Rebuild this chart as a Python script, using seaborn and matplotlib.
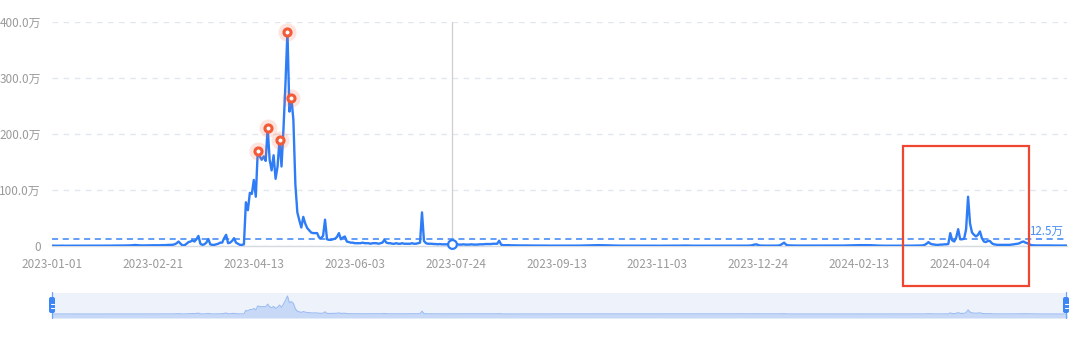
import numpy as np
import pandas as pd
import matplotlib
matplotlib.use("Agg")
import matplotlib.pyplot as plt
import matplotlib.transforms as mtransforms
from matplotlib.patches import Rectangle, FancyBboxPatch
import seaborn as sns

# ---------------- data (values in 万) ----------------
start_date = "2023-01-01"
jan_2023 = [0.6, 0.5, 0.5, 0.4, 0.5, 0.6, 0.5, 0.4, 0.5, 0.5,
            0.5, 0.4, 0.4, 0.5, 0.5, 0.6, 0.5, 0.5, 0.4, 0.5,
            0.5, 0.5, 0.6, 0.5, 0.5, 0.5, 0.6, 0.7, 0.6, 0.6, 0.7]
feb_2023 = [0.7, 0.8, 0.8, 0.9, 0.8, 0.8, 0.9, 1.0, 1.0,
            1.2, 1.5, 1.8, 1.5, 1.2, 1.0, 1.0, 0.9, 1.1, 1.2,
            1.2, 1.3, 1.3, 1.4, 1.3, 1.5, 1.6, 1.5, 1.8]
mar_2023 = [2.0,
            2.0, 2.2, 3.0, 5.0, 8.0, 4.0, 1.0, 1.5, 4.0, 7.0,
            8.0, 10.0, 8.0, 12.0, 18.0, 4.0, 2.0, 3.0, 6.0, 12.5,
            3.0, 2.0, 2.0, 3.0, 4.0, 6.0, 6.0, 14.0, 20.0, 5.0]
apr_2023 = [6.0, 9.0, 14.0, 6.0, 4.0, 2.0, 2.0, 3.0, 78, 64,
            95, 93, 118, 88, 170, 160, 154, 160, 152, 211,
            154, 135, 162, 120, 142, 190, 142, 210, 290, 383]
may_2023 = [240, 264, 225, 110, 60, 46, 33, 52, 40, 32,
            28, 24, 23, 23, 23, 15, 14, 18, 47, 12,
            11, 11, 12, 13, 16, 23, 12, 15, 17, 8, 7]
jun_2023 = [6, 6, 5, 5, 5, 5, 6, 5, 5,
            5, 4, 5, 5, 5, 4, 5, 6, 11, 6,
            5, 5, 4, 4, 5, 4, 4, 5, 4, 4, 4]
jul_2023 = [4, 5, 4, 4, 5, 6, 60, 9, 5,
            4, 4, 4, 3.5, 3.5, 3, 3.5, 3, 3, 3,
            3, 3, 3, 3, 2.5, 3, 2.5, 2.5, 3, 2.5, 2.5, 2.5]
aug_2023 = [3, 2.5, 2.5, 2.5, 3, 3, 3, 3.5,
            3.5, 3.5, 3.5, 4, 4, 4, 9.5, 2.5, 1.5, 1.5,
            1.5, 1.5, 1.2, 1.2, 1.2, 1.0, 1.0, 1.0, 1.0, 0.9,
            0.9, 0.9, 0.8]
sep_2023 = [0.8, 0.8, 0.8, 0.7, 0.7, 0.7, 0.7,
            0.7, 0.6, 0.6, 0.6, 0.6, 0.6, 0.6, 0.7, 0.7, 0.6,
            0.6, 0.6, 0.6, 0.6, 0.6, 0.6, 0.7, 0.7, 0.8, 0.8,
            0.9, 1.0, 1.1]
oct_2023 = [1.2, 1.3, 1.4, 1.5, 1.5, 1.4, 1.3,
            1.2, 1.1, 1.0, 0.9, 0.8, 0.7, 0.7, 0.6, 0.6, 0.6,
            0.6, 0.6, 0.5, 0.5, 0.5, 0.5, 0.5, 0.5, 0.5, 0.5,
            0.5, 0.5, 0.5, 0.5]
nov_2023 = [0.5, 0.5, 0.4, 0.4, 0.5, 0.5, 0.5, 0.4, 0.4, 0.5,
            0.5, 0.5, 0.6, 0.6, 0.7, 0.8, 0.8, 0.7, 0.6, 0.6,
            0.5, 0.5, 0.5, 0.4, 0.4, 0.5, 0.5, 0.5, 0.5, 0.5]
dec_2023 = [0.5, 0.5, 0.5, 0.5, 0.5, 0.5, 0.5, 0.5, 0.5, 0.5,
            0.5, 0.6, 0.6, 0.6, 0.6, 0.6,
            0.6, 0.6, 0.7, 0.8, 1.5, 2.5, 3.0, 1.5, 0.8, 0.7,
            0.6, 0.6, 0.6, 0.6, 0.6]
jan_2024 = [0.6, 0.7, 0.8, 1.5, 3.5,
            6.0, 2.5, 1.2, 1.0, 0.9, 0.8, 0.8, 0.7, 0.7, 0.7,
            0.7, 0.6, 0.6, 0.6, 0.6, 0.6, 0.6, 0.6, 0.6, 0.6,
            0.6, 0.6, 0.7, 0.7, 0.7, 0.7]
feb_2024 = [0.7, 0.7, 0.7, 0.8,
            0.8, 0.9, 1.0, 1.1, 1.2, 1.3, 1.4, 1.4, 1.5, 1.5,
            1.5, 1.5, 1.6, 1.5, 1.4, 1.2, 1.0, 0.8, 0.7, 0.6,
            0.5, 0.5, 0.5, 0.5, 0.5]
mar_2024 = [0.5, 0.5, 0.5, 0.5, 0.5, 0.5, 0.5, 0.6, 0.6, 0.6,
            0.6, 0.7, 0.7, 0.8, 0.9,
            1.0, 2.0, 4.0, 7.0, 4.0, 3.0, 2.5, 2.0, 2.0, 2.5,
            2.5, 3.0, 3.0, 3.5, 23, 10]
apr_2024 = [8, 15, 30, 12,
            12, 13, 30, 88, 40, 24, 20, 17, 20, 26,
            14, 8, 7, 9, 9, 5, 3, 2.5, 2, 2,
            2, 2, 2, 2, 2, 2.5]
may_2024 = [3, 3.5, 4, 5,
            7, 8, 6, 5, 3, 1.5, 1.2, 1.0, 1.0, 1.0,
            1.0, 1.0, 0.9, 0.9, 0.9, 0.9, 0.8, 0.8, 0.8, 0.8,
            0.8, 0.8, 0.8, 0.8]

monthly_blocks = [jan_2023, feb_2023, mar_2023, apr_2023, may_2023, jun_2023,
                  jul_2023, aug_2023, sep_2023, oct_2023, nov_2023, dec_2023,
                  jan_2024, feb_2024, mar_2024, apr_2024, may_2024]
values_wan = [v for block in monthly_blocks for v in block]

threshold_wan = 12.5
threshold_label = "12.5万"
highlight_dates = ["2023-04-15", "2023-04-20", "2023-04-26", "2023-04-30", "2023-05-02"]
hover_date = "2023-07-22"
x_tick_dates = ["2023-01-01", "2023-02-21", "2023-04-13", "2023-06-03", "2023-07-24",
                "2023-09-13", "2023-11-03", "2023-12-24", "2024-02-13", "2024-04-04"]
y_ticks = [0, 100, 200, 300, 400]
y_tick_labels = ["0", "100.0万", "200.0万", "300.0万", "400.0万"]

dates = pd.date_range(start_date, periods=len(values_wan), freq="D")
df = pd.DataFrame({"date": dates, "value": values_wan})
series = df.set_index("date")["value"]

# ---------------- style ----------------
sns.set_theme(style="white")
plt.rcParams["font.family"] = ["Noto Sans CJK SC", "DejaVu Sans"]

W, H = 1080, 341
fig = plt.figure(figsize=(W / 100, H / 100), dpi=100)
fig.patch.set_facecolor("white")

L, R, T, B = 52, 1067, 22, 246
ax = fig.add_axes([L / W, (H - B) / H, (R - L) / W, (B - T) / H])
ax.set_facecolor("white")

line_color = "#2E7DF7"
grey_text = "#9A9A9A"

ax.set_yticks(y_ticks)
ax.yaxis.grid(True, linestyle=(0, (4, 4)), color="#E2E6EE", lw=1)
ax.xaxis.grid(False)

sns.lineplot(data=df, x="date", y="value", ax=ax, color=line_color, lw=1.7, legend=False, zorder=3)

ax.axhline(threshold_wan, color="#3A84F6", lw=1.1, ls=(0, (4, 3)), zorder=2)
ax.text(0.996, threshold_wan + 2.5, threshold_label,
        transform=mtransforms.blended_transform_factory(ax.transAxes, ax.transData),
        ha="right", va="bottom", fontsize=8.3, color="#4A8EF2")

# hover line & point
hd = pd.Timestamp(hover_date)
ax.axvline(hd, color="#CFCFCF", lw=0.9, zorder=1)
ax.scatter([hd], [series[hd]], s=40, facecolor="white", edgecolor=line_color, linewidths=1.6,
           zorder=5, clip_on=False)

# highlighted peaks
hl = pd.to_datetime(highlight_dates)
hv = series[hl].values
ax.scatter(hl, hv, s=170, color="#F56A4A", alpha=0.18, linewidths=0, zorder=4)
ax.scatter(hl, hv, s=26, facecolor="white", edgecolor="#F25A38", linewidths=2.2, zorder=5)

ax.set_xlim(dates[0], dates[-1])
ax.set_ylim(0, 400)
ax.set_xticks(pd.to_datetime(x_tick_dates))
ax.set_xticklabels(x_tick_dates)
ax.set_yticklabels(y_tick_labels)
ax.set_xlabel("")
ax.set_ylabel("")
for s in ["left", "right", "top"]:
    ax.spines[s].set_visible(False)
ax.spines["bottom"].set_color("#D6DAE1")
ax.spines["bottom"].set_linewidth(1)
ax.tick_params(axis="x", length=4, color="#D6DAE1", labelcolor=grey_text, labelsize=8.5, pad=5)
ax.tick_params(axis="y", length=0, labelcolor=grey_text, labelsize=8.5, pad=8)

# red highlight rectangle (figure annotation)
rx0, rx1, ry0, ry1 = 903, 1029, 146, 286
fig.patches.append(Rectangle((rx0 / W, (H - ry1) / H), (rx1 - rx0) / W, (ry1 - ry0) / H,
                             transform=fig.transFigure, fill=False, ec="#EE4630", lw=1.6, zorder=10))

# ---------------- data-zoom slider ----------------
zT, zB = 293, 318
ax2 = fig.add_axes([L / W, (H - zB) / H, (R - L) / W, (zB - zT) / H])
ax2.set_facecolor("#EEF2FB")
ax2.fill_between(dates, values_wan, -85, color="#C7D9F7", lw=0)
sns.lineplot(data=df, x="date", y="value", ax=ax2, color="#9DBDF3", lw=0.8, legend=False)
ax2.set_xlim(dates[0], dates[-1])
ax2.set_ylim(-85, 447)
ax2.set_xticks([])
ax2.set_yticks([])
ax2.set_xlabel("")
ax2.set_ylabel("")
for s in ax2.spines.values():
    s.set_visible(False)

inch = fig.dpi_scale_trans
for hx in (L, R - 1):
    fig.lines.append(plt.Line2D([hx / 100, hx / 100], [(H - zB) / 100, (H - zT + 1) / 100],
                                transform=inch, color="#6EA6F7", lw=0.9))
    r = 0.02
    fig.patches.append(FancyBboxPatch((hx / 100 - 0.03 + r, (H - 313) / 100 + r), 0.06 - 2 * r, 0.16 - 2 * r,
                                      boxstyle=f"round,pad={r}", transform=inch,
                                      fc="#3D86F5", ec="none", zorder=11))
    for yy in (303.5, 307.5):
        fig.lines.append(plt.Line2D([hx / 100 - 0.015, hx / 100 + 0.015], [(H - yy) / 100] * 2,
                                    transform=inch, color="white", lw=0.8, zorder=12))

fig.savefig("out.png", dpi=100)
